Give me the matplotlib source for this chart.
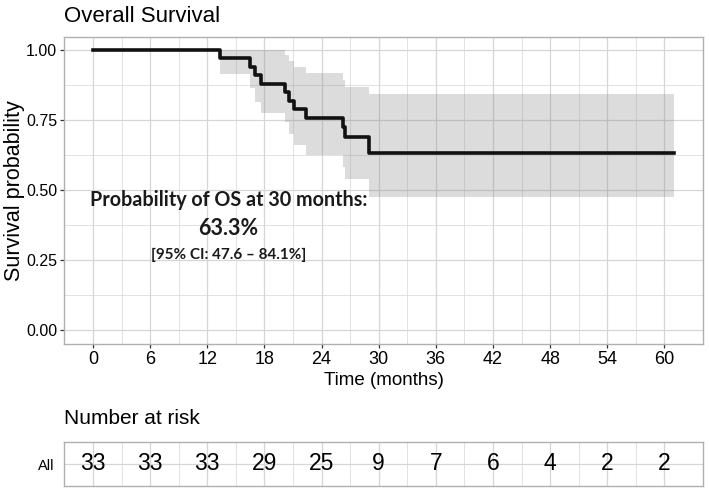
import matplotlib
matplotlib.use("Agg")
import matplotlib.pyplot as plt
from matplotlib import font_manager
import numpy as np

# Kaplan-Meier estimate
times = [0, 13.3, 16.5, 17.0, 17.6, 20.2, 20.6, 21.1, 22.4, 26.2, 26.5, 29.0, 61.0]
surv = [1.0, 0.970, 0.939, 0.909, 0.879, 0.848, 0.818, 0.788, 0.758, 0.724, 0.688, 0.633, 0.633]
upper = [1.0, 1.0, 1.0, 1.0, 0.998, 0.981, 0.960, 0.938, 0.918, 0.893, 0.869, 0.841, 0.841]
lower = [1.0, 0.913, 0.863, 0.815, 0.776, 0.742, 0.700, 0.662, 0.625, 0.583, 0.538, 0.476, 0.476]

# risk table
risk_times = [0, 6, 12, 18, 24, 30, 36, 42, 48, 54, 60]
n_at_risk = [33, 33, 33, 29, 25, 9, 7, 6, 4, 2, 2]

annot_lines = ["Probability of OS at 30 months:", "63.3%", "[95% CI: 47.6 \u2013 84.1%]"]

names = {f.name for f in font_manager.fontManager.ttflist}
base = "Liberation Sans"
narrow = "Liberation Sans Narrow" if "Liberation Sans Narrow" in names else base
plt.rcParams["font.family"] = base

grid_col = "#d6d6d6"
border_col = "#b0b0b0"
xlim = (-3.05, 64.05)

fig = plt.figure(figsize=(7.09, 4.93), dpi=100)
ax = fig.add_axes([64 / 709, 1 - 344 / 493, 639 / 709, 307 / 493])

ax.fill_between(times, lower, upper, step="post", color="#7f7f7f", alpha=0.27,
                linewidth=0, zorder=2)
ax.step(times, surv, where="post", color="#111111", linewidth=2.6, zorder=3)

ax.set_xlim(*xlim)
ax.set_ylim(-0.05, 1.046)
ax.set_xticks(risk_times)
ax.set_xticks(np.arange(3, 61, 6), minor=True)
ax.set_yticks([0, 0.25, 0.5, 0.75, 1.0])
ax.set_yticks([0.125, 0.375, 0.625, 0.875], minor=True)
ax.set_yticklabels(["0.00", "0.25", "0.50", "0.75", "1.00"], fontsize=11.5)
ax.set_xticklabels([str(t) for t in risk_times], fontsize=13, family=narrow)
ax.grid(which="major", color=grid_col, linewidth=0.9, zorder=0)
ax.grid(which="minor", color=grid_col, linewidth=0.5, zorder=0)
ax.set_axisbelow(True)
ax.tick_params(which="major", length=3, width=0.9, color="#333333", pad=2)
ax.tick_params(which="minor", length=0)
for s in ax.spines.values():
    s.set_color(border_col)
    s.set_linewidth(1.0)

ax.set_ylabel("Survival probability", fontsize=15.5, labelpad=1)
ax.set_xlabel("Time (months)", fontsize=13.5, labelpad=3)
fig.text(64 / 709, 1 - 16 / 493, "Overall Survival", fontsize=16, va="center", ha="left")

ax.text(14.2, 0.464, annot_lines[0], family="Lato", fontweight="bold", fontsize=14.2,
        ha="center", va="center", color="#1a1a1a")
ax.text(14.2, 0.361, annot_lines[1], family="Lato", fontweight="bold", fontsize=15.5,
        ha="center", va="center", color="#1a1a1a")
ax.text(14.2, 0.268, annot_lines[2], family="Lato", fontweight="bold", fontsize=11,
        ha="center", va="center", color="#1a1a1a")

# number at risk table
rax = fig.add_axes([64 / 709, 1 - 486 / 493, 639 / 709, 44 / 493])
rax.set_xlim(*xlim)
rax.set_ylim(0.4, 1.6)
for t, n in zip(risk_times, n_at_risk):
    rax.text(t, 1, str(n), ha="center", va="center", fontsize=16.5, family=narrow)
rax.set_xticks(risk_times)
rax.set_xticks(np.arange(3, 61, 6), minor=True)
rax.set_yticks([1])
rax.set_yticklabels(["All"], fontsize=10.5)
rax.tick_params(axis="x", which="both", length=0, labelbottom=False)
rax.tick_params(axis="y", length=0, pad=7)
rax.grid(which="major", color=grid_col, linewidth=0.9)
rax.grid(which="minor", axis="x", color=grid_col, linewidth=0.5)
rax.set_axisbelow(True)
for s in rax.spines.values():
    s.set_color(border_col)
    s.set_linewidth(1.0)
fig.text(64 / 709, 1 - 418 / 493, "Number at risk", fontsize=15, va="center", ha="left")

fig.savefig("out.png", dpi=100)
